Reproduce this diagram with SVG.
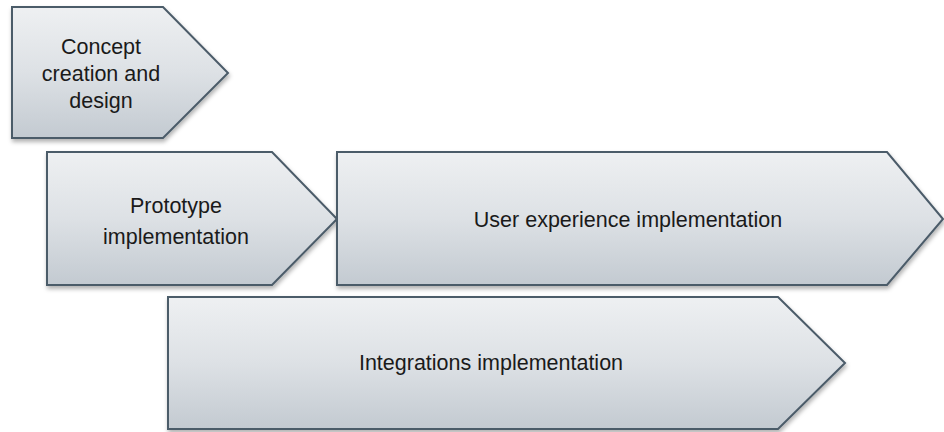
<svg xmlns="http://www.w3.org/2000/svg" width="944" height="432" viewBox="0 0 944 432">
<defs>
<linearGradient id="g" x1="0" y1="0" x2="0" y2="1">
<stop offset="0" stop-color="#eef0f2"/>
<stop offset="0.5" stop-color="#dde1e5"/>
<stop offset="1" stop-color="#c3cad1"/>
</linearGradient>
<filter id="sh" x="-10%" y="-10%" width="120%" height="130%">
<feDropShadow dx="1" dy="3" stdDeviation="2" flood-color="#000" flood-opacity="0.3"/>
</filter>
</defs>
<style>
.s{fill:url(#g);stroke:#4b5b69;stroke-width:2;stroke-linejoin:miter;filter:url(#sh)}
.t{font-family:"Liberation Sans",Arial,sans-serif;font-size:21.5px;fill:#1a1a1a;text-anchor:middle}
</style>
<g id="concept">
<path class="s" d="M12 7 H163 L228 73 L163 138 H12 Z"/>
<text class="t" x="101" y="54">Concept</text>
<text class="t" x="101" y="81">creation and</text>
<text class="t" x="101" y="108">design</text>
</g>
<g id="prototype">
<path class="s" d="M47 152 H272 L337 219 L272 285 H47 Z"/>
<text class="t" x="176" y="213">Prototype</text>
<text class="t" x="176" y="244">implementation</text>
</g>
<g id="ux">
<path class="s" d="M337 152 H887 L943 219 L887 285 H337 Z"/>
<text class="t" x="628" y="227">User experience implementation</text>
</g>
<g id="integrations">
<path class="s" d="M168 297 H778 L845 363 L778 429 H168 Z"/>
<text class="t" x="491" y="370">Integrations implementation</text>
</g>
<g id="connectors"></g>
</svg>
